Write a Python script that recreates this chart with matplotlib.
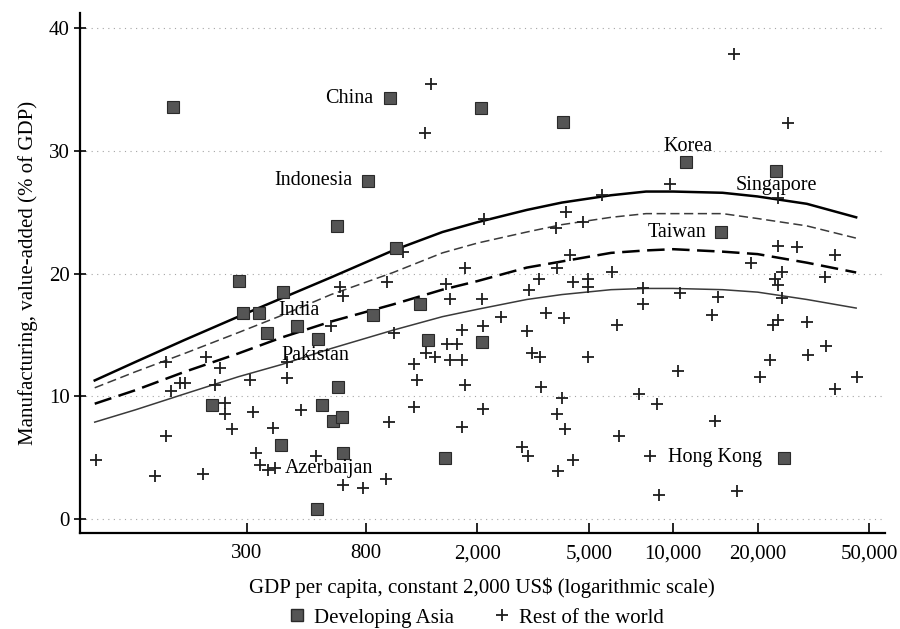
import matplotlib
matplotlib.use('Agg')
import matplotlib.pyplot as plt
from matplotlib.lines import Line2D
from matplotlib.ticker import FixedLocator, FuncFormatter, NullLocator

plt.rcParams['font.family'] = 'serif'
plt.rcParams['font.serif'] = ['Liberation Serif', 'DejaVu Serif']
plt.rcParams['font.size'] = 15

# Developing Asia: GDP per capita (constant 2000 US$) and manufacturing share (% of GDP)
asia_gdp = [164, 974, 2060, 4040, 11100, 23200, 813, 14800, 630, 1023,
            282, 404, 291, 332, 355, 454, 539, 847, 1246, 1331,
            2075, 635, 557, 610, 656, 226, 398, 662, 1530, 535, 24800]
asia_mfg = [33.6, 34.3, 33.5, 32.4, 29.1, 28.4, 27.6, 23.4, 23.9, 22.1,
            19.4, 18.5, 16.8, 16.8, 15.2, 15.7, 14.7, 16.6, 17.5, 14.6,
            14.4, 10.8, 9.3, 8.0, 8.3, 9.3, 6.0, 5.4, 5.0, 0.8, 5.0]

# rest of the world
row_gdp = [87, 155, 141, 209, 155, 161, 173, 181, 215, 241,
           231, 251, 251, 266, 308, 316, 372, 324, 335, 357,
           379, 418, 418, 469, 530, 662, 780, 942, 966, 1186,
           1216, 1186, 1310, 1410, 1556, 1007, 600, 646, 662, 950,
           1542, 1803, 1595, 1760, 1689, 1595, 1760, 1803, 1760, 3840,
           4270, 3310, 3050, 4380, 4950, 4950, 6040, 7790, 7790, 2075,
           2420, 3510, 4070, 6290, 2090, 3000, 3130, 3340, 4950, 3370,
           4000, 3840, 4100, 2090, 2880, 3030, 4380, 3870, 6400, 7540,
           8740, 8250, 14100, 8890, 16900, 13700, 22700, 23600, 30000, 35100,
           30200, 22100, 20400, 37700, 45200, 10400, 37700, 19000, 23000, 24500,
           23600, 34800, 24400, 10600, 14500, 16500, 25600, 9730, 5560, 23600,
           4140, 2110, 4760, 3810, 23600, 27600, 1360, 1300, 1080]
row_mfg = [4.8, 6.8, 3.5, 3.7, 12.8, 10.4, 11.1, 11.1, 13.2, 12.3,
           10.9, 9.5, 8.6, 7.3, 11.3, 8.7, 7.4, 5.4, 4.4, 4.0,
           4.2, 11.5, 12.8, 8.9, 5.1, 2.8, 2.5, 3.3, 7.9, 9.1,
           11.3, 12.6, 13.5, 13.2, 14.3, 15.2, 15.7, 18.9, 18.2, 19.3,
           19.2, 20.5, 17.9, 15.4, 14.3, 13.0, 13.0, 10.9, 7.5, 20.5,
           21.5, 19.6, 18.7, 19.3, 19.6, 18.9, 20.1, 18.8, 17.5, 17.9,
           16.5, 16.8, 16.4, 15.8, 15.7, 15.3, 13.5, 13.2, 13.2, 10.8,
           9.9, 8.6, 7.3, 9.0, 5.9, 5.1, 4.8, 3.9, 6.8, 10.2,
           9.4, 5.1, 8.0, 2.0, 2.3, 16.6, 15.8, 16.2, 16.1, 14.1,
           13.4, 13.0, 11.6, 10.6, 11.6, 12.1, 21.5, 20.9, 19.6, 20.1,
           19.1, 19.7, 18.0, 18.4, 18.1, 37.9, 32.3, 27.3, 26.4, 26.2,
           25.0, 24.5, 24.2, 23.7, 22.3, 22.2, 35.5, 31.5, 21.8]

# fitted curves
fit_gdp = [86, 120, 180, 280, 400, 600, 1000, 1500, 2000, 3000,
           4000, 6000, 8000, 10000, 15000, 20000, 30000, 45000]
fit_top = [11.3, 12.8, 14.6, 16.5, 18.0, 19.7, 21.9, 23.4, 24.2, 25.2,
           25.8, 26.4, 26.7, 26.7, 26.6, 26.3, 25.7, 24.6]
fit_dash_thin = [10.7, 12.0, 13.5, 15.2, 16.6, 18.3, 20.1, 21.7, 22.5, 23.4,
                 24.0, 24.6, 24.9, 24.9, 24.9, 24.5, 23.9, 22.9]
fit_dash_bold = [9.4, 10.5, 12.0, 13.5, 14.8, 16.1, 17.5, 18.7, 19.4, 20.5,
                 21.0, 21.7, 21.9, 22.0, 21.8, 21.6, 20.9, 20.1]
fit_low = [7.9, 8.9, 10.2, 11.6, 12.6, 13.9, 15.4, 16.5, 17.1, 17.9,
           18.3, 18.7, 18.8, 18.8, 18.7, 18.5, 17.9, 17.2]

x_ticks = [300, 800, 2000, 5000, 10000, 20000, 50000]
y_ticks = [0, 10, 20, 30, 40]

# economy names: (label, gdp, share, alignment)
labels = [('China', 847, 34.3, 'right'),
          ('Indonesia', 713, 27.6, 'right'),
          ('Korea', 11300, 30.4, 'center'),
          ('Singapore', 23400, 27.2, 'center'),
          ('Taiwan', 13100, 23.4, 'right'),
          ('India', 388, 17.0, 'left'),
          ('Pakistan', 398, 13.3, 'left'),
          ('Azerbaijan', 411, 4.1, 'left'),
          ('Hong Kong', 20800, 5.0, 'right')]

fig = plt.figure(figsize=(9, 6.29), dpi=100)
ax = fig.add_axes([0.0889, 0.1526, 0.8941, 0.8264])

ax.set_xscale('log')
ax.set_xlim(76.2, 56900)
ax.set_ylim(-1.14, 41.24)

ax.grid(axis='y', linestyle=(0, (1, 4)), color='#a5a5a5', linewidth=0.8)
ax.set_axisbelow(True)

ax.plot(fit_gdp, fit_top, color='black', lw=1.8, zorder=2)
ax.plot(fit_gdp, fit_dash_thin, color='#3a3a3a', lw=1.1, dashes=(6, 3), zorder=2)
ax.plot(fit_gdp, fit_dash_bold, color='black', lw=1.8, dashes=(7, 3), zorder=2)
ax.plot(fit_gdp, fit_low, color='#3a3a3a', lw=1.1, zorder=2)

ax.plot(row_gdp, row_mfg, ls='None', marker='+', ms=9, mew=1.3,
        color='#1e1e1e', zorder=3)
ax.plot(asia_gdp, asia_mfg, ls='None', marker='s', ms=9, mew=0.8,
        mfc='#555555', mec='#2a2a2a', zorder=4)

for name, gx, gy, ha in labels:
    ax.text(gx, gy, name, ha=ha, va='center', fontsize=14.5, zorder=5)

ax.spines['top'].set_visible(False)
ax.spines['right'].set_visible(False)
ax.spines['left'].set_linewidth(1.6)
ax.spines['bottom'].set_linewidth(1.6)

ax.xaxis.set_major_locator(FixedLocator(x_ticks))
ax.xaxis.set_minor_locator(NullLocator())
ax.xaxis.set_major_formatter(FuncFormatter(lambda v, p: '{:,.0f}'.format(v)))
ax.set_yticks(y_ticks)
ax.tick_params(axis='x', direction='in', length=7, width=1.2, pad=8, labelsize=15)
ax.tick_params(axis='y', direction='inout', length=9, width=1.2, pad=3, labelsize=15)

ax.set_xlabel(r'GDP per capita, constant 2,000 US\$ (logarithmic scale)', fontsize=15, labelpad=10)
ax.set_ylabel('Manufacturing, value-added (% of GDP)', fontsize=15, labelpad=8)

handles = [Line2D([], [], ls='None', marker='s', ms=9, mfc='#555555', mec='#2a2a2a'),
           Line2D([], [], ls='None', marker='+', ms=9, mew=1.3, color='#1e1e1e')]
fig.legend(handles, ['Developing Asia', 'Rest of the world'], loc='center',
           bbox_to_anchor=(0.528, 0.0175), ncol=2, frameon=False, fontsize=15,
           handletextpad=0.3, columnspacing=1.8, handlelength=1.0)

plt.savefig('out.png', dpi=100)
